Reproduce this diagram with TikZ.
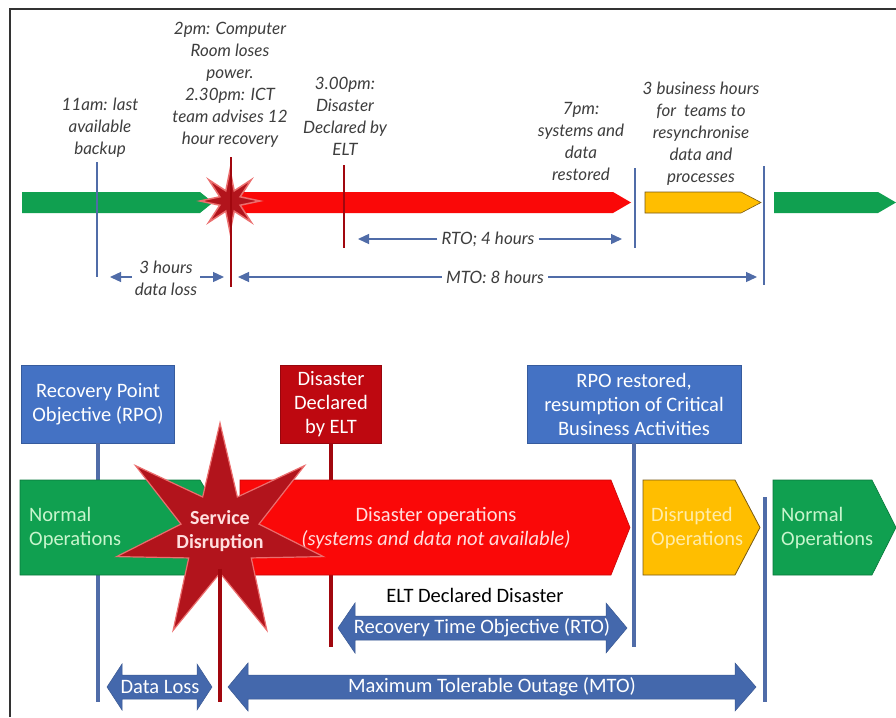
\documentclass[tikz,border=0pt]{standalone}
\usepackage{fontspec}
\setmainfont{Carlito}
\newfontfamily\topfont{Lato}
\usetikzlibrary{arrows.meta}
\definecolor{gr}{RGB}{16,160,80}
\definecolor{grd}{RGB}{10,120,60}
\definecolor{rd}{RGB}{250,8,8}
\definecolor{dr}{RGB}{190,8,16}
\definecolor{st}{RGB}{178,20,28}
\definecolor{stedge}{RGB}{235,110,110}
\definecolor{og}{RGB}{255,190,0}
\definecolor{ogd}{RGB}{120,90,20}
\definecolor{bx}{RGB}{68,114,196}
\definecolor{ar}{RGB}{68,104,172}
\definecolor{ln}{RGB}{80,108,168}
\definecolor{tx}{RGB}{62,62,62}
\definecolor{lgr}{RGB}{200,245,205}
\definecolor{lrd}{RGB}{255,222,222}
\definecolor{log}{RGB}{255,236,170}
\begin{document}
\begin{tikzpicture}[x=1pt,y=-1pt,
  toptext/.style={text=tx, font=\topfont\itshape\fontsize{17}{22}\selectfont, align=center, inner sep=1pt},
  btext/.style={font=\fontsize{20.5}{24}\selectfont, align=center, inner sep=1pt},
  boxb/.style={btext, fill=bx, draw=bx!80!black, line width=0.6, text=white},
  boxr/.style={btext, fill=dr, draw=dr!80!black, line width=0.6, text=white},
  tline/.style={line width=2.2},
  bline/.style={line width=3.5},
  tarrow/.style={draw=ln, line width=1.3, -{Triangle[length=11,width=10]}},
  blockarrow/.style={fill=ar, draw=ar!85!black, line width=0.5},
  starstyle/.style={fill=st, draw=stedge, line width=1.2, line join=miter},
]
\useasboundingbox (0,0) rectangle (896,717);
\fill[white] (0,0) rectangle (896,717);
\draw[line width=2.2, black!80] (10,717) -- (10,9) -- (896,9);

% ---------------- top timeline ----------------
\fill[gr] (22,192) -- (200,192) -- (213,202.5) -- (200,213) -- (22,213) -- cycle;
\fill[rd] (240,192) -- (613,192) -- (631,202.5) -- (613,213) -- (240,213) -- cycle;
\draw[fill=og, draw=ogd, line width=0.6] (645,192) -- (741,192) -- (761,202.5) -- (741,213) -- (645,213) -- cycle;
\fill[gr] (774,192) -- (878,192) -- (896,202.5) -- (878,213) -- (774,213) -- cycle;

\coordinate (smallstar) at (230,201);
\draw[starstyle, line width=1.5, shift={(smallstar)}]
  (-90:31) -- (-67.5:11) -- (-45:30) -- (-22.5:11) -- (0:30) -- (22.5:11) -- (45:30) -- (67.5:11)
  -- (90:31) -- (112.5:11) -- (135:30) -- (157.5:11) -- (180:30) -- (202.5:11) -- (225:30) -- (247.5:11) -- cycle;

\coordinate (l1t) at (97,162);   \coordinate (l1b) at (97,277);
\coordinate (l2t) at (231,157);  \coordinate (l2b) at (231,287);
\coordinate (l3t) at (344,165);  \coordinate (l3b) at (344,248);
\coordinate (l4t) at (635,168);  \coordinate (l4b) at (635,248);
\coordinate (l5t) at (764,166);  \coordinate (l5b) at (764,285);
\draw[tline, ln] (l1t) -- (l1b);
\draw[tline, dr!85!black] (l2t) -- (l2b);
\draw[tline, dr!85!black] (l3t) -- (l3b);
\draw[tline, ln] (l4t) -- (l4b);
\draw[tline, ln] (l5t) -- (l5b);

\node[toptext] (t11) at (100,128) {11am: last\\available\\backup};
\node[toptext] (t2pm) at (230,85) {2pm: Computer\\Room loses\\power.\\2.30pm: ICT\\team advises 12\\hour recovery};
\node[toptext] (t3pm) at (345,116) {3.00pm:\\Disaster\\Declared by\\ELT};
\node[toptext] (t7pm) at (581,141) {7pm:\\systems and\\data\\restored};
\node[toptext] (t3bh) at (701,134) {3 business hours\\for\ \ teams to\\resynchronise\\data and\\processes};

\node[toptext] (tloss) at (166,278) {3 hours\\data loss};
\node[toptext] (trto) at (488,239) {RTO; 4 hours};
\node[toptext] (tmto) at (495,277) {MTO: 8 hours};

\coordinate (rtoL) at (358,239); \coordinate (rtoR) at (622,239);
\coordinate (mtoL) at (238,277); \coordinate (mtoR) at (757,277);
\coordinate (lossL) at (110,277); \coordinate (lossR) at (224,277);
\draw[tarrow] (trto.west) ++(-3,0) -- (rtoL);
\draw[tarrow] (trto.east) ++(3,0) -- (rtoR);
\draw[tarrow] (tmto.west) ++(-3,0) -- (mtoL);
\draw[tarrow] (tmto.east) ++(3,0) -- (mtoR);
\draw[tarrow] (tloss.west |- lossL) ++(-2,0) -- (lossL);
\draw[tarrow] (tloss.east |- lossR) ++(2,0) -- (lossR);

% ---------------- bottom diagram ----------------
\node[boxb, minimum width=153, minimum height=78] (rpo) at (98,404) {Recovery Point\\Objective (RPO)};
\node[boxr, minimum width=101, minimum height=78] (dis) at (331,404) {Disaster\\Declared\\by ELT};
\node[boxb, minimum width=214, minimum height=78] (rr) at (634,404) {RPO restored,\\resumption of Critical\\Business Activities};

\coordinate (rpoEnd) at (98,702);
\coordinate (disEnd) at (331,647);
\coordinate (rrEnd) at (634,647);
\coordinate (svcEnd) at (220,702);
\coordinate (mtoTop) at (765,497);
\coordinate (mtoEnd) at (765,702);
\draw[bline, ln] (rpo.south) -- (rpoEnd);
\draw[bline, dr!85!black] (dis.south) -- (disEnd);
\draw[bline, ln] (rr.south) -- (rrEnd);
\draw[bline, ln] (mtoTop) -- (mtoEnd);

\draw[fill=gr, draw=grd, line width=0.6] (20,480) -- (200,480) -- (228,527.5) -- (200,575) -- (20,575) -- cycle;
\draw[fill=rd, draw=rd!80!black, line width=0.6] (240,480) -- (611,480) -- (630,527.5) -- (611,575) -- (240,575) -- cycle;
\draw[fill=og, draw=ogd, line width=0.8] (643,480) -- (735,480) -- (760,527.5) -- (735,575) -- (643,575) -- cycle;
\draw[fill=gr, draw=grd, line width=0.6] (773,480) -- (872,480) -- (896,527.5) -- (872,575) -- (773,575) -- cycle;

\node[btext, text=lgr, align=left, anchor=west] (norm1) at (28,528) {Normal\\Operations};
\node[btext, text=lrd] (disop) at (436,528) {Disaster operations\\\textit{(systems and data not available)}};
\node[btext, text=log, align=left, anchor=west] (disr) at (650,528) {Disrupted\\Operations};
\node[btext, text=lgr, align=left, anchor=west] (norm2) at (780,528) {Normal\\Operations};

\coordinate (bigstar) at (220,533);
\draw[starstyle, shift={(bigstar)}]
  (-90:110) -- (-64.29:40) -- (-38.57:108) -- (-12.86:40) -- (12.86:106) -- (38.57:40) -- (64.29:108)
  -- (90:40) -- (115.71:108) -- (141.43:40) -- (167.14:106) -- (192.86:40) -- (218.57:108) -- (244.29:40) -- cycle;
\node[btext, text=lrd, font=\bfseries\fontsize{20}{24}\selectfont] (svc) at (220,531) {Service\\Disruption};
\draw[bline, dr!85!black] (svc.south) ++(0,16) -- (svcEnd);

\node[btext, text=black] (elt) at (475,595) {ELT Declared Disaster};

\draw[blockarrow] (338,628) -- (355,603) -- (355,616) -- (606,616) -- (606,603) -- (627,628) -- (606,653) -- (606,640) -- (355,640) -- (355,653) -- cycle;
\node[btext, text=white] (rto) at (482,628) {Recovery Time Objective (RTO)};

\draw[blockarrow] (228,687) -- (248,663) -- (248,675) -- (735,675) -- (735,663) -- (756,687) -- (735,711) -- (735,699) -- (248,699) -- (248,711) -- cycle;
\node[btext, text=white] (mto) at (492,687) {Maximum Tolerable Outage (MTO)};

\draw[blockarrow] (107,687) -- (122,664) -- (122,675) -- (197,675) -- (197,664) -- (212,687) -- (197,710) -- (197,699) -- (122,699) -- (122,710) -- cycle;
\node[btext, text=white] (dl) at (160,687) {Data Loss};
\end{tikzpicture}
\end{document}
